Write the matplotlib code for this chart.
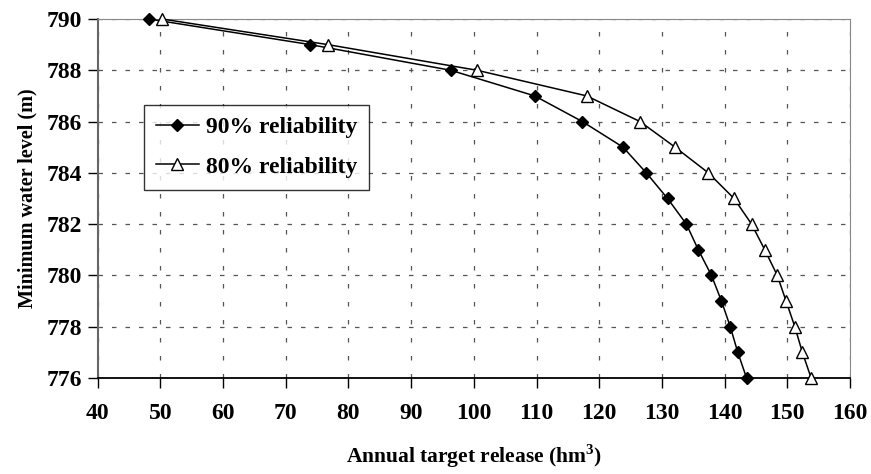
import matplotlib.pyplot as plt

# minimum water level (m) and annual target release (hm3)
levels = [790, 789, 788, 787, 786, 785, 784, 783, 782, 781, 780, 779, 778, 777, 776]
rel90 = [48.1, 73.9, 96.3, 109.7, 117.3, 123.8, 127.5, 130.9, 133.9, 135.8,
         137.9, 139.5, 140.9, 142.1, 143.5]
rel80 = [50.2, 76.7, 100.5, 118.0, 126.5, 132.1, 137.4, 141.5, 144.3, 146.4,
         148.4, 149.8, 151.2, 152.4, 153.8]

plt.rcParams['font.family'] = ['Liberation Serif', 'DejaVu Serif']
plt.rcParams['font.weight'] = 'bold'
plt.rcParams['mathtext.fontset'] = 'custom'
plt.rcParams['mathtext.rm'] = 'Liberation Serif'
plt.rcParams['mathtext.bf'] = 'Liberation Serif:bold'

fig = plt.figure(figsize=(8.71, 4.74), dpi=100)
ax = fig.add_axes([0.1122, 0.2025, 0.8637, 0.7575])

ax.plot(rel90, levels, color='black', lw=1.1, marker='D', ms=6,
        mfc='black', mec='black', label='90% reliability', clip_on=False, zorder=4)
ax.plot(rel80, levels, color='black', lw=1.1, marker='^', ms=8.5,
        mfc='white', mec='black', mew=1.0, label='80% reliability',
        clip_on=False, zorder=4)

ax.set_xlim(40, 160)
ax.set_ylim(776, 790)
ax.set_xticks(range(40, 161, 10))
ax.set_yticks(range(776, 791, 2))
ax.xaxis.grid(True, color='#555555', linestyle=(0, (3.6, 10.8)), lw=0.9)
ax.yaxis.grid(True, color='#555555', linestyle=(0, (3.6, 7.2)), lw=0.9)
ax.tick_params(direction='out', length=7, width=1, labelsize=17)
ax.tick_params(axis='x', pad=11)
ax.tick_params(axis='y', pad=4)
for lab in ax.get_xticklabels() + ax.get_yticklabels():
    lab.set_fontweight('bold')

for s in ['top', 'right']:
    ax.spines[s].set_color('#888888')
ax.spines['left'].set_color('#666666')
ax.spines['left'].set_linewidth(1.5)
ax.spines['bottom'].set_color('black')
ax.spines['bottom'].set_linewidth(1.3)

ax.set_xlabel('Annual target release (hm$^{\\mathbf{3}}$)', fontsize=15.5,
              fontweight='bold', labelpad=13)
ax.set_ylabel('Minimum water level (m)', fontsize=14.5, fontweight='bold',
              labelpad=7)

leg = ax.legend(loc='upper left', bbox_to_anchor=(0.062, 0.76), fontsize=17,
                frameon=True, fancybox=False, edgecolor='black',
                borderpad=0.5, labelspacing=0.75, handlelength=1.8,
                handletextpad=0.3, borderaxespad=0)
leg.get_frame().set_linewidth(1.0)
leg.set_zorder(5)
for t in leg.get_texts():
    t.set_fontweight('bold')

fig.savefig('out.png', dpi=100)
